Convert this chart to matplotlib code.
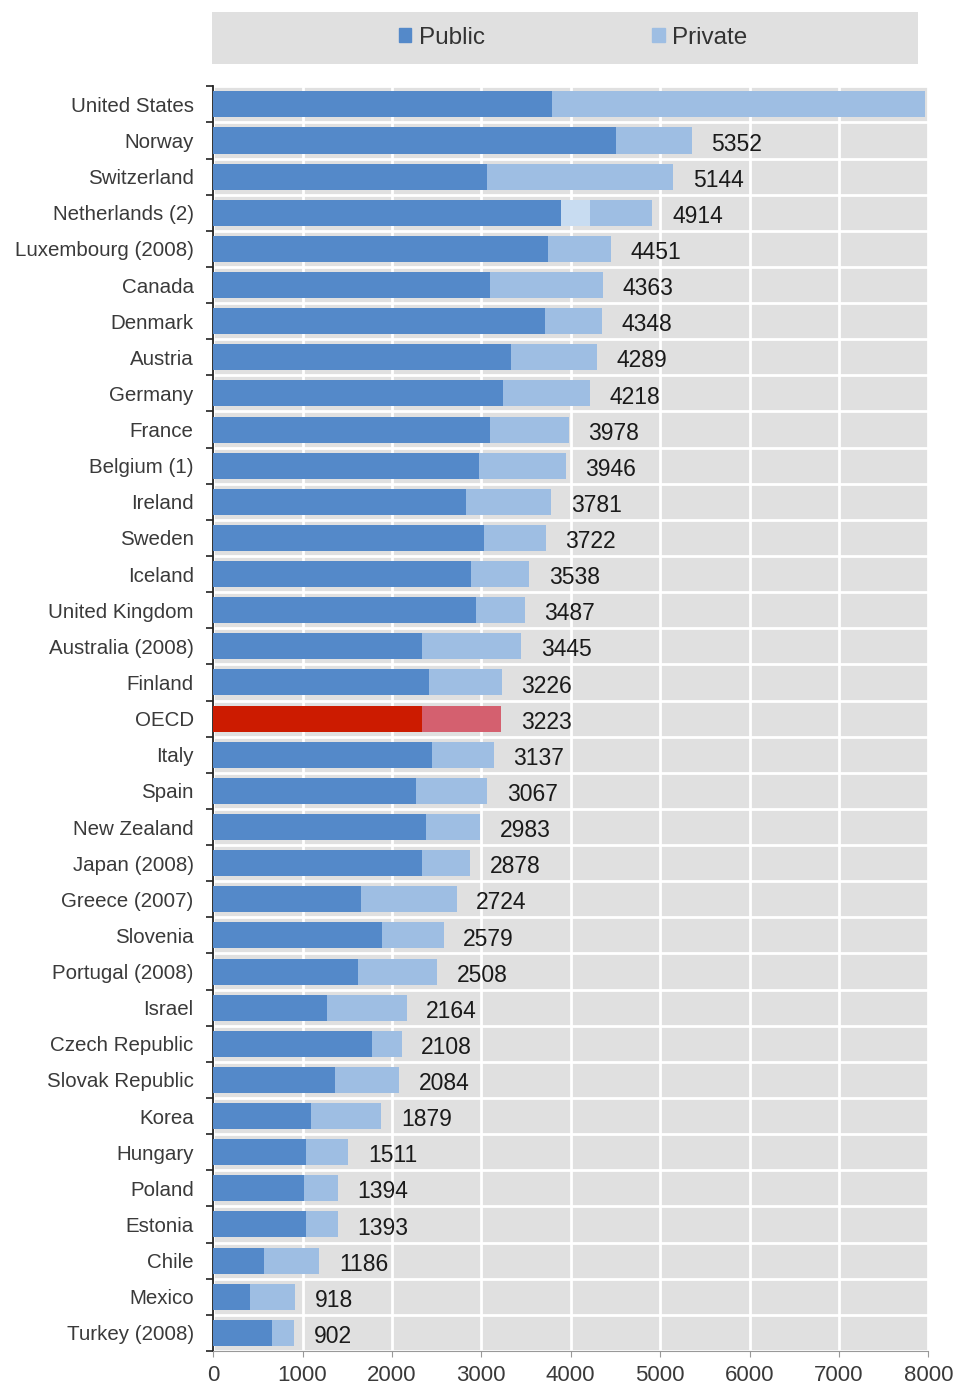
import matplotlib
matplotlib.use('Agg')
import matplotlib.pyplot as plt
from matplotlib.patches import Rectangle, Patch
import numpy as np

plt.rcParams['font.family'] = ['Liberation Sans', 'DejaVu Sans']

countries = ['United States', 'Norway', 'Switzerland', 'Netherlands (2)', 'Luxembourg (2008)',
             'Canada', 'Denmark', 'Austria', 'Germany', 'France', 'Belgium (1)', 'Ireland',
             'Sweden', 'Iceland', 'United Kingdom', 'Australia (2008)', 'Finland', 'OECD',
             'Italy', 'Spain', 'New Zealand', 'Japan (2008)', 'Greece (2007)', 'Slovenia',
             'Portugal (2008)', 'Israel', 'Czech Republic', 'Slovak Republic', 'Korea',
             'Hungary', 'Poland', 'Estonia', 'Chile', 'Mexico', 'Turkey (2008)']
totals = [7960, 5352, 5144, 4914, 4451, 4363, 4348, 4289, 4218, 3978, 3946, 3781,
          3722, 3538, 3487, 3445, 3226, 3223, 3137, 3067, 2983, 2878, 2724, 2579,
          2508, 2164, 2108, 2084, 1879, 1511, 1394, 1393, 1186, 918, 902]
public = [3795, 4505, 3065, 3886, 3745, 3092, 3712, 3332, 3245, 3092, 2978, 2826,
          3033, 2886, 2946, 2332, 2413, 2332, 2446, 2272, 2386, 2332, 1652, 1886,
          1620, 1272, 1772, 1359, 1098, 1038, 1011, 1038, 565, 418, 658]
# Netherlands has an unallocated part between public and private
other = [0, 0, 0, 326] + [0] * 31
show_label = [False] + [True] * 34

public = np.array(public)
other = np.array(other)
totals = np.array(totals)
private = totals - public - other

c_pub, c_priv, c_other = '#5489c9', '#9ebee3', '#c8dcf1'
c_pub_oecd, c_priv_oecd = '#cc1b00', '#d4606f'

fig = plt.figure(figsize=(9.6, 13.92), dpi=100)
ax = fig.add_axes([0.222, 0.0295, 0.745, 0.9085])
ax.set_facecolor('#e0e0e0')

y = np.arange(len(countries))
pub_col = [c_pub_oecd if c == 'OECD' else c_pub for c in countries]
priv_col = [c_priv_oecd if c == 'OECD' else c_priv for c in countries]
ax.barh(y, public, height=0.72, color=pub_col, zorder=3)
ax.barh(y, other, left=public, height=0.72, color=c_other, zorder=3)
ax.barh(y, private, left=public + other, height=0.72, color=priv_col, zorder=3)

for yi, t, s in zip(y, totals, show_label):
    if s:
        ax.text(t + 220, yi + 0.1, str(t), va='center', ha='left', fontsize=16.5,
                color='#1a1a1a', zorder=4)

ax.set_xlim(0, 8000)
ax.set_ylim(len(countries) - 0.5, -0.5)
ax.set_xticks(np.arange(0, 8001, 1000))
ax.set_yticks(y)
ax.set_yticklabels(countries, fontsize=14.8, color='#3a3a3a')
ax.set_yticks(np.arange(-0.5, len(countries), 1), minor=True)
ax.tick_params(axis='y', which='major', length=0, pad=14)
ax.tick_params(axis='y', which='minor', length=5, width=1.2, color='#222222', direction='out')
ax.tick_params(axis='x', length=4, color='#999999', labelsize=16, labelcolor='#3a3a3a', pad=6)

ax.grid(axis='x', color='white', linewidth=2, zorder=1)
ax.grid(axis='y', which='minor', color='white', linewidth=2, zorder=1)
ax.set_axisbelow(True)

for side in ['top', 'right']:
    ax.spines[side].set_visible(False)
ax.spines['left'].set_color('#222222')
ax.spines['left'].set_linewidth(1.3)
ax.spines['bottom'].set_color('#999999')

# legend box on top
fig.patches.append(Rectangle((0.221, 0.954), 0.735, 0.0374, transform=fig.transFigure,
                             facecolor='#e0e0e0', edgecolor='none'))
handles = [Patch(color=c_pub, label='Public'), Patch(color=c_priv, label='Private')]
fig.legend(handles=handles, loc='center', bbox_to_anchor=(0.597, 0.973), ncol=2,
           frameon=False, fontsize=17.5, handlelength=0.5, handleheight=0.5,
           handletextpad=0.3, columnspacing=6.9, labelcolor='#333333')

fig.savefig('out.png', dpi=100, facecolor='white')
